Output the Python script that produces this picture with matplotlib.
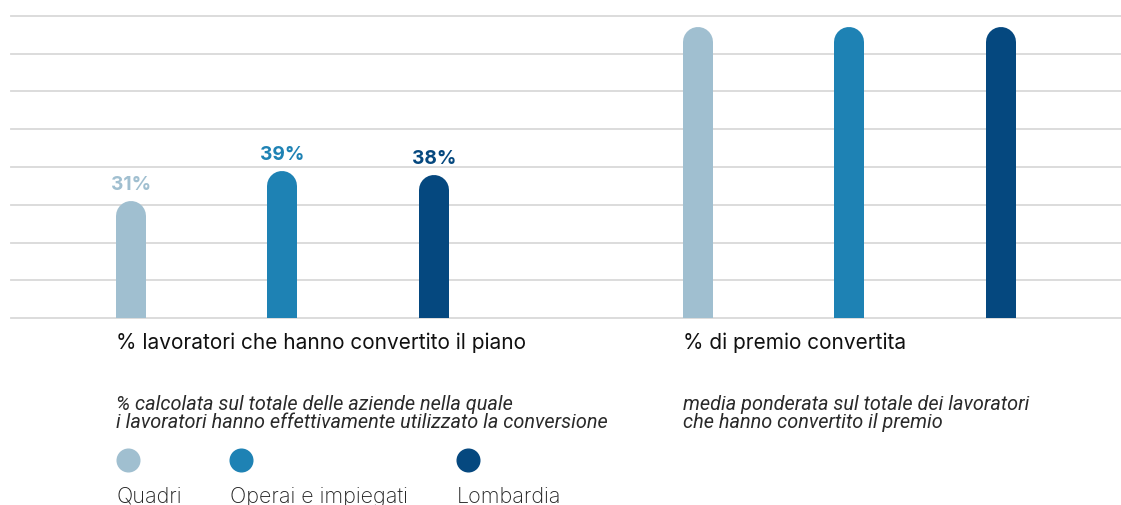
import matplotlib
matplotlib.use("Agg")
import matplotlib.pyplot as plt
import numpy as np

# --- data ---
series = ["Quadri", "Operai e impiegati", "Lombardia"]
colors = ["#a0bfd0", "#1e82b4", "#05487f"]
groups = ["% lavoratori che hanno convertito il piano", "% di premio convertita"]
subtitles = [
    ["% calcolata sul totale delle aziende nella quale",
     "i lavoratori hanno effettivamente utilizzato la conversione"],
    ["media ponderata sul totale dei lavoratori",
     "che hanno convertito il premio"],
]
values_workers = [31, 39, 38]
values_premium = [77, 77, 77]
show_labels = [True, False]

W, H, DPI = 1121, 506, 100
fig = plt.figure(figsize=(W / DPI, H / DPI), dpi=DPI)
fig.patch.set_facecolor("white")

def fx(px):
    return px / W

def fy(py):
    return 1 - py / H

# plot area in pixels
ax_l, ax_r, ax_t, ax_b = 11, 1121, 17, 319
ax = fig.add_axes([fx(ax_l), fy(ax_b), fx(ax_r - ax_l), fy(ax_t) - fy(ax_b)])
ymax = 80
ax.set_ylim(0, ymax)
group_gap = 3.74
ax.set_xlim(-0.792, 6.535)

for y in np.arange(0, ymax + 1, 10):
    ax.axhline(y, color="#d9d9d9", lw=1.3, zorder=0, clip_on=False)
for s in ax.spines.values():
    s.set_visible(False)
ax.set_xticks([])
ax.set_yticks([])

# bar geometry: 30 px wide bars with rounded tops
bar_px = 30
px_per_unit = (ax_b - ax_t) / ymax
r_data = (bar_px / 2) / px_per_unit
lw_pt = bar_px * 72 / DPI

for g, vals in enumerate([values_workers, values_premium]):
    for i, v in enumerate(vals):
        x = g * group_gap + i
        ax.plot([x, x], [-r_data * 2, v - r_data], color=colors[i], lw=lw_pt,
                solid_capstyle="round", zorder=2)
        if show_labels[g]:
            ax.annotate(f"{v}%", (x, v), xytext=(0, 8), textcoords="offset pixels",
                        ha="center", va="bottom", fontsize=13.8, fontweight="bold",
                        family="Inter", color=colors[i])

# group titles and notes
title_x = [116, 683]
for g in range(2):
    fig.text(fx(title_x[g]), fy(349), groups[g], ha="left", va="baseline",
             fontsize=15, family="Inter", color="#111111")
    for k, line in enumerate(subtitles[g]):
        fig.text(fx(title_x[g]), fy(410 + 17.7 * k), line, ha="left", va="baseline",
                 fontsize=14.3, family="Roboto", style="italic",
                 fontweight="normal", color="#2a2a2a")

# legend
leg_dot_x = [128, 241, 468]
leg_txt_x = [117, 230, 457]
for i, name in enumerate(series):
    fig.add_artist(plt.Line2D([fx(leg_dot_x[i])], [fy(461)], marker="o", ms=16.3,
                              color=colors[i], mec=colors[i], transform=fig.transFigure))
    fig.text(fx(leg_txt_x[i]), fy(503), name, ha="left", va="baseline",
             fontsize=15.5, family="Inter", fontweight="light", color="#222222")

fig.savefig("out.png", dpi=DPI, facecolor="white")
